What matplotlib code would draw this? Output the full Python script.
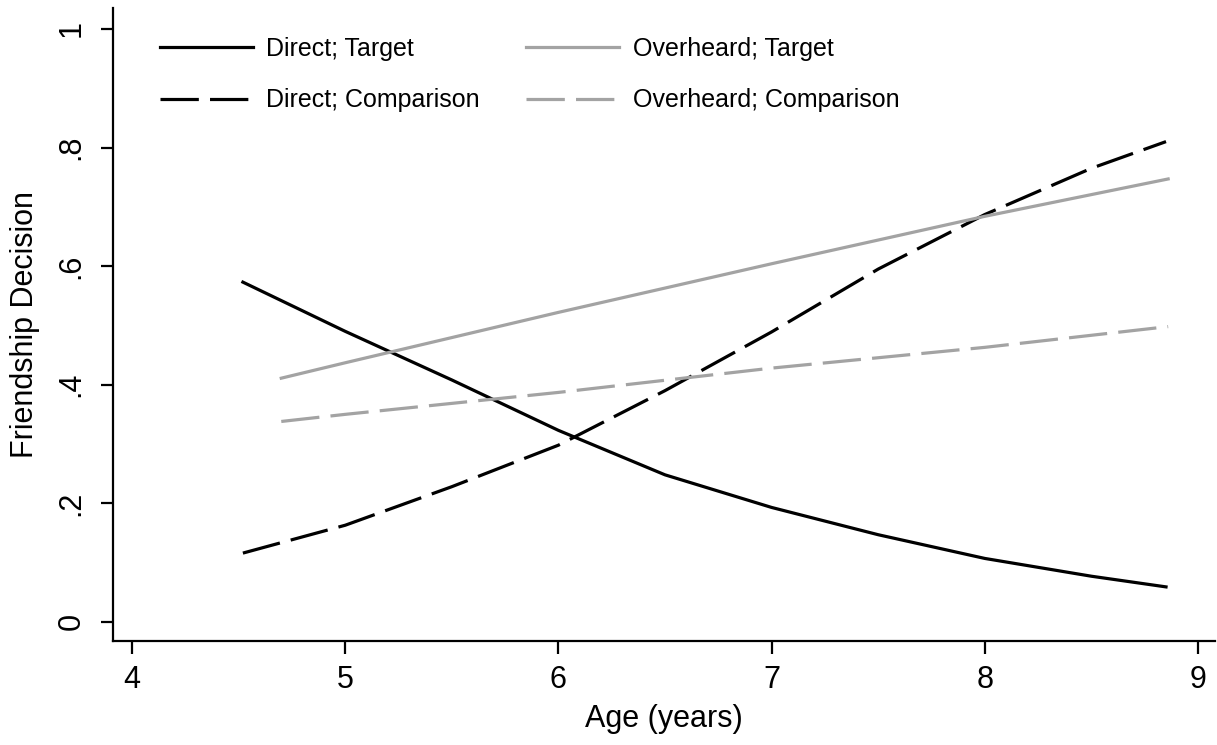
import matplotlib.pyplot as plt

plt.rcParams['font.family'] = ['Liberation Sans', 'DejaVu Sans']

# values
age_direct = [4.52, 5.0, 5.5, 6.0, 6.5, 7.0, 7.5, 8.0, 8.5, 8.85]
direct_target = [0.573, 0.490, 0.408, 0.323, 0.248, 0.193, 0.147, 0.107, 0.077, 0.059]
direct_comparison = [0.116, 0.163, 0.228, 0.298, 0.390, 0.489, 0.595, 0.687, 0.765, 0.810]

age_overheard = [4.70, 5.0, 6.0, 7.0, 8.0, 8.86]
overheard_target = [0.411, 0.437, 0.522, 0.604, 0.684, 0.747]
overheard_comparison = [0.338, 0.350, 0.387, 0.428, 0.463, 0.498]

yticks = [0, 0.2, 0.4, 0.6, 0.8, 1]
ytick_labels = ['0', '.2', '.4', '.6', '.8', '1']
xticks = [4, 5, 6, 7, 8, 9]

grey = '#a3a3a3'
dash = (0, (12, 3.5))

fig = plt.figure(figsize=(12.17, 7.45), dpi=100)
ax = fig.add_axes([0.0929, 0.139, 0.9055, 0.850])

l1, = ax.plot(age_direct, direct_target, color='black', lw=2.3, label='Direct; Target')
l2, = ax.plot(age_direct, direct_comparison, color='black', lw=2.3, linestyle=dash, label='Direct; Comparison')
l3, = ax.plot(age_overheard, overheard_target, color=grey, lw=2.3, label='Overheard; Target')
l4, = ax.plot(age_overheard, overheard_comparison, color=grey, lw=2.3, linestyle=dash, label='Overheard; Comparison')

ax.set_xlim(3.911, 9.08)
ax.set_ylim(-0.033, 1.035)
ax.set_xticks(xticks)
ax.set_yticks(yticks)
ax.set_yticklabels(ytick_labels, rotation=90, va='center')

for s in ['top', 'right']:
    ax.spines[s].set_visible(False)
for s in ['left', 'bottom']:
    ax.spines[s].set_linewidth(1.6)

ax.tick_params(axis='both', direction='out', length=9, width=1.6, labelsize=22)
ax.tick_params(axis='x', pad=8)
ax.tick_params(axis='y', pad=10)

ax.set_xlabel('Age (years)', fontsize=22)
ax.set_ylabel('Friendship Decision', fontsize=22)
ax.xaxis.set_label_coords(0.5, -0.098)
ax.yaxis.set_label_coords(-0.066, 0.5)

ax.legend(handles=[l1, l2, l3, l4], ncol=2, frameon=False, fontsize=18,
          loc='upper left', bbox_to_anchor=(160 / 1217, 1 - 37 / 745),
          bbox_transform=fig.transFigure, borderpad=0, borderaxespad=0,
          handlelength=3.7, handletextpad=0.56, labelspacing=1.09, columnspacing=1.85)

fig.savefig('out.png', dpi=100)
